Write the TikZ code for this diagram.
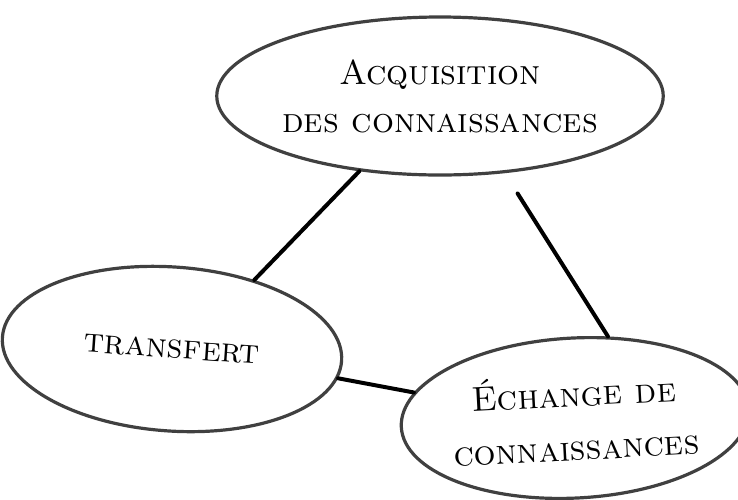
\documentclass[tikz,border=0pt]{standalone}
\usetikzlibrary{shapes.geometric}
\tikzset{
  bubble/.style = {ellipse, draw = black!75, line width = 1.6pt, fill = white, align = center, font = \LARGE\scshape, inner sep = 0pt},
  link/.style = {draw = black, line width = 2pt, line cap = round}
}
\begin{document}
\begin{tikzpicture}[x = 0.5pt, y = -0.5pt]
\useasboundingbox (0,0) rectangle (738,499);
\node[bubble, minimum width = 195pt, minimum height = 79pt] (acq) at (440,96) {Acquisition\\[2pt]des connaissances};
\node[bubble, minimum width = 170pt, minimum height = 82pt, rotate = -4] (tra) at (172,349) {transfert};
\node[bubble, minimum width = 162pt, minimum height = 80pt, rotate = 3] (ech) at (575,418) {Échange de\\[5pt]connaissances};
\draw[link] (acq.223) -- (tra.44);
\draw[link, shorten <= 12pt] (acq.-50) -- (ech.65);
\draw[link] (tra.-6) -- (ech.168);
\end{tikzpicture}
\end{document}
